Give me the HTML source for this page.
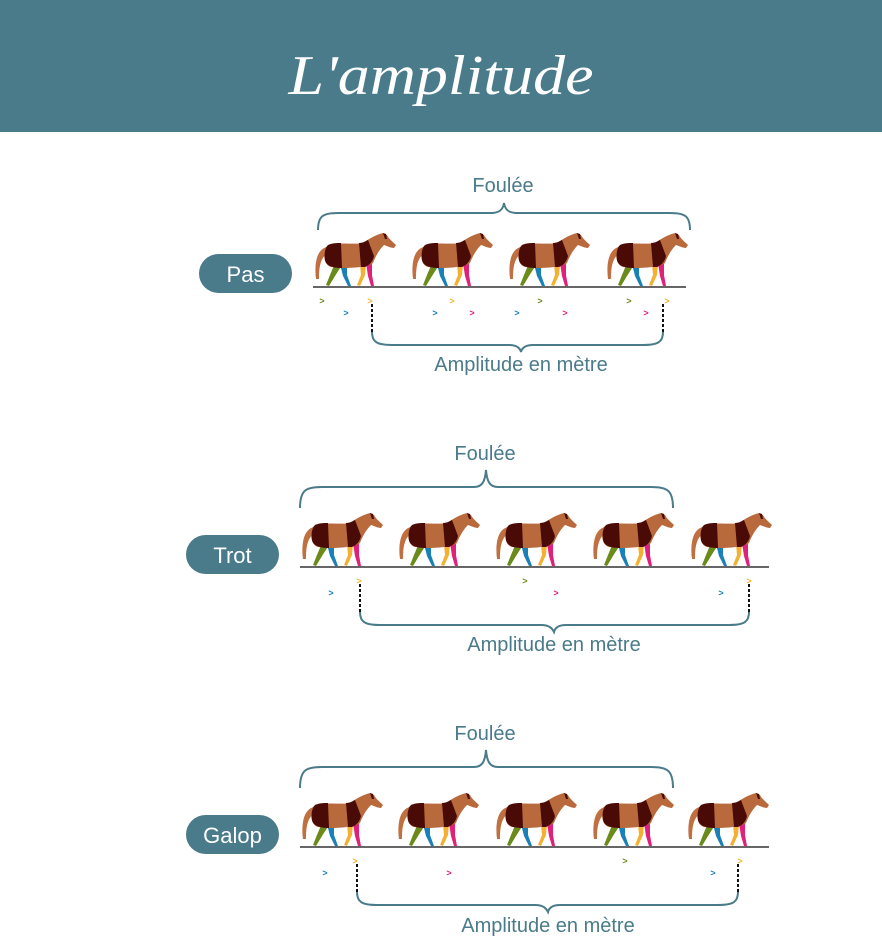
<!DOCTYPE html>
<html><head><meta charset="utf-8"><style>
html,body{margin:0;padding:0;background:#fff}
svg{display:block}
text{font-family:"Liberation Sans",sans-serif}
</style></head><body>
<svg width="882" height="940" viewBox="0 0 882 940" xmlns="http://www.w3.org/2000/svg">
<defs>
<g id="h">
  <path d="M14,14 C4,16 1,30 3,46 L6,46 C6,32 8,24 16,19 Z" fill="#c07040"/>
  <path d="M22,30 L17,42 L13,52 L16,53 L22,43 L29,32 Z" fill="#6a8a1a"/>
  <path d="M27,31 L30,43 L35,53 L38,53 L34,42 L34,31 Z" fill="#1a80b8"/>
  <path d="M53,30 L55,43 L58,53 L61,53 L59,42 L59,30 Z" fill="#e0207a"/>
  <path d="M47,31 L48,42 L44,52 L47,53 L52,42 L53,31 Z" fill="#f4b030"/>
  <path d="M13,14 C22,8 40,12 50,10 C56,6 62,2 70,0 L74,2 C76,6 80,9 83,12 L81,15 C78,15 74,13 71,12 C67,16 63,22 60,30 C54,35 30,36 18,34 C10,32 10,18 13,14 Z" fill="#b86a3c"/>
  <path d="M15,12 C19,10 24,10 28,10 L29,35 C20,35 13,33 12,27 C11,21 12,15 15,12 Z" fill="#4a0a05"/>
  <path d="M46,10 C50,10 53,8 55,7 L61,23 C60,28 57,32 52,34 L48,34 Z" fill="#4a0a05"/>
  <path d="M70,0 L73,1 L74,6 L72,6 Z" fill="#4a0a05"/>
</g>
</defs>
<rect x="0" y="0" width="882" height="132" fill="#4a7b8a"/>
<text x="441" y="94" text-anchor="middle" textLength="305" lengthAdjust="spacingAndGlyphs" style="font-family:'Liberation Serif',serif" font-style="italic" font-size="56" fill="#fff">L'amplitude</text>

<g fill="none" stroke="#4a7b8a" stroke-width="2">
<path d="M318,230 C318,216 323,213 338,213 L491,213 C499,213 503,210 504,203 C505,210 509,213 517,213 L670,213 C685,213 690,216 690,230"/>
<path d="M372,332 C372,342 377,345 392,345 L509,345 C517,345 520,348 521,352 C522,348 525,345 533,345 L643,345 C658,345 663,342 663,332"/>
<path d="M300,508 C300,490 306,487 322,487 L474,487 C482,487 485,482 486,470 C487,482 490,487 498,487 L651,487 C667,487 673,490 673,508"/>
<path d="M360,612 C360,622 365,625 380,625 L541,625 C549,625 552,628 554,632 C555,628 558,625 566,625 L729,625 C744,625 749,622 749,612"/>
<path d="M300,788 C300,770 306,767 322,767 L474,767 C482,767 485,762 486,750 C487,762 490,767 498,767 L651,767 C667,767 673,770 673,788"/>
<path d="M357,892 C357,902 362,905 377,905 L535,905 C543,905 546,908 548,912 C549,908 552,905 560,905 L718,905 C733,905 738,902 738,892"/>
</g>

<g fill="#4a7b8a" font-size="20" text-anchor="middle">
<text x="503" y="192">Foulée</text>
<text x="521" y="371">Amplitude en mètre</text>
<text x="485" y="460">Foulée</text>
<text x="554" y="651">Amplitude en mètre</text>
<text x="485" y="740">Foulée</text>
<text x="548" y="932">Amplitude en mètre</text>
</g>

<rect x="199" y="254" width="93" height="39" rx="19.5" fill="#4a7b8a"/>
<text x="245.5" y="282" text-anchor="middle" font-size="22" fill="#fff">Pas</text>
<rect x="186" y="535" width="93" height="39" rx="19.5" fill="#4a7b8a"/>
<text x="232.5" y="563" text-anchor="middle" font-size="22" fill="#fff">Trot</text>
<rect x="186" y="815" width="93" height="39" rx="19.5" fill="#4a7b8a"/>
<text x="232.5" y="843" text-anchor="middle" font-size="22" fill="#fff">Galop</text>

<g stroke="#333" stroke-width="1.5">
<line x1="313" y1="287" x2="686" y2="287"/>
<line x1="300" y1="567" x2="769" y2="567"/>
<line x1="300" y1="847" x2="769" y2="847"/>
</g>

<use href="#h" x="313" y="233"/><use href="#h" x="410" y="233"/><use href="#h" x="507" y="233"/><use href="#h" x="605" y="233"/>
<use href="#h" x="300" y="513"/><use href="#h" x="397" y="513"/><use href="#h" x="494" y="513"/><use href="#h" x="591" y="513"/><use href="#h" x="689" y="513"/>
<use href="#h" x="300" y="793"/><use href="#h" x="396" y="793"/><use href="#h" x="494" y="793"/><use href="#h" x="591" y="793"/><use href="#h" x="686" y="793"/>

<g stroke="#111" stroke-width="2" stroke-dasharray="3,2">
<line x1="372" y1="304" x2="372" y2="332"/>
<line x1="663" y1="304" x2="663" y2="332"/>
<line x1="360" y1="584" x2="360" y2="612"/>
<line x1="749" y1="584" x2="749" y2="612"/>
<line x1="357" y1="864" x2="357" y2="892"/>
<line x1="738" y1="864" x2="738" y2="892"/>
</g>

<g font-size="9" font-weight="bold" text-anchor="middle">
<text x="322" y="304" fill="#6a8a1a">&gt;</text><text x="346" y="316" fill="#1a80b8">&gt;</text><text x="370" y="304" fill="#f4b030">&gt;</text>
<text x="452" y="304" fill="#f4b030">&gt;</text><text x="435" y="316" fill="#1a80b8">&gt;</text><text x="472" y="316" fill="#e0207a">&gt;</text>
<text x="540" y="304" fill="#6a8a1a">&gt;</text><text x="517" y="316" fill="#1a80b8">&gt;</text><text x="565" y="316" fill="#e0207a">&gt;</text>
<text x="629" y="304" fill="#6a8a1a">&gt;</text><text x="646" y="316" fill="#e0207a">&gt;</text><text x="667" y="304" fill="#f4b030">&gt;</text>
<text x="331" y="596" fill="#1a80b8">&gt;</text><text x="359" y="584" fill="#f4b030">&gt;</text><text x="525" y="584" fill="#6a8a1a">&gt;</text><text x="556" y="596" fill="#e0207a">&gt;</text><text x="721" y="596" fill="#1a80b8">&gt;</text><text x="749" y="584" fill="#f4b030">&gt;</text>
<text x="325" y="876" fill="#1a80b8">&gt;</text><text x="355" y="864" fill="#f4b030">&gt;</text><text x="449" y="876" fill="#e0207a">&gt;</text><text x="625" y="864" fill="#6a8a1a">&gt;</text><text x="713" y="876" fill="#1a80b8">&gt;</text><text x="740" y="864" fill="#f4b030">&gt;</text>
</g>
</svg>
</body></html>
